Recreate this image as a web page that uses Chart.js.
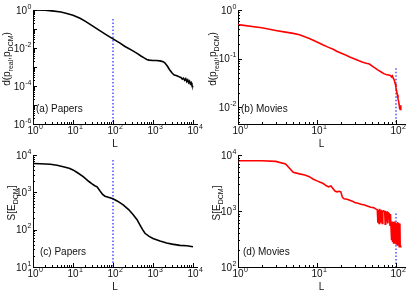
<!DOCTYPE html>
<html lang="en">
<head>
<meta charset="UTF-8" />
<title>DCM distance and entropy vs L</title>
<script src="https://cdn.jsdelivr.net/npm/chart.js"></script>
<style>
  body { margin: 0; background: #fff; }
  .wrap { position: relative; width: 410px; height: 296px; }
  canvas { position: absolute; }
</style>
</head>
<body>
<div class="wrap">
  <canvas id="chartA" width="205" height="148" style="left:0;top:0"></canvas>
  <canvas id="chartB" width="205" height="148" style="left:205px;top:0"></canvas>
  <canvas id="chartC" width="205" height="148" style="left:0;top:148px"></canvas>
  <canvas id="chartD" width="205" height="148" style="left:205px;top:148px"></canvas>
</div>
<script>
// (a) papers: distance d(p_real, p_DCM)
const papersDistL = [1, 2, 3, 5, 7, 10, 15, 20, 30, 50, 70, 100, 150, 200, 300, 400, 500, 600, 700, 800,
  1000, 1200, 1500, 1800, 2000, 2300, 2600, 3000, 3400, 3800, 4200, 4600, 5000, 5400, 5800, 6200,
  6600, 7000, 7400, 7800, 8200, 8600, 9000, 9400, 10000];
const papersDist = [1.0, 0.97, 0.9, 0.78, 0.66, 0.53, 0.37, 0.26, 0.15, 0.075, 0.048, 0.03, 0.018, 0.012,
  0.0075, 0.0052, 0.0038, 0.003, 0.0025, 0.0023, 0.0022, 0.0022, 0.0021, 0.0019, 0.0016, 0.0011,
  0.00072, 0.00048, 0.00038, 0.00036, 0.00033, 0.0003, 0.00028, 0.00023, 0.00026, 0.0002, 0.00024,
  0.00017, 0.00021, 0.00015, 0.00018, 0.00013, 0.00015, 0.00011, 0.000085];

// (b) movies: distance
const moviesDistL = [1, 2, 3, 4, 5, 6, 7, 8, 10, 12, 14, 16, 18, 20, 23, 26, 30, 34, 38, 42, 46, 50, 55,
  60, 65, 70, 75, 80, 85, 88, 90, 92, 95, 98, 100, 102, 104, 106, 108, 110, 111, 113, 115];
const moviesDist = [0.5, 0.43, 0.38, 0.35, 0.33, 0.31, 0.28, 0.26, 0.22, 0.19, 0.17, 0.155, 0.14, 0.13,
  0.118, 0.108, 0.098, 0.09, 0.084, 0.08, 0.077, 0.07, 0.063, 0.057, 0.053, 0.049, 0.047, 0.046,
  0.045, 0.042, 0.044, 0.04, 0.036, 0.03, 0.025, 0.021, 0.018, 0.015, 0.013, 0.011, 0.0095, 0.009, 0.011];

// (c) papers: entropy S[E_DCM]
const papersEntL = [1, 1.5, 2.7, 4, 5.7, 8, 10, 13, 18, 25, 30, 35, 40, 47, 55, 63, 80, 100, 130, 180, 250,
  320, 400, 470, 550, 630, 800, 1000, 1500, 2200, 3000, 4700, 7000, 10000];
const papersEnt = [5900, 5850, 5650, 5300, 4870, 4400, 3980, 3350, 2630, 1950, 1680, 1500, 1400, 1100,
  880, 790, 730, 670, 580, 460, 340, 250, 185, 135, 100, 80, 66, 58, 50, 44, 41, 38, 37, 35];

// (d) movies: entropy
const moviesEntL = [1, 2, 3, 4, 5, 6, 7, 8, 9, 10, 11, 12, 13, 14, 15, 16, 17, 18, 19, 20, 21, 22, 24, 26,
  28, 30, 33, 36, 40, 44, 48, 52, 56, 58, 59, 60, 61, 62, 63, 64, 65, 66, 67, 68, 70, 72, 73, 74, 76,
  78, 79, 82, 84, 85, 88, 89, 90, 91, 93, 94, 96, 97, 98, 100, 101, 103, 105, 106, 108, 110, 112, 113, 115];
const moviesEnt = [7900, 7900, 7700, 6900, 4900, 4600, 4400, 4100, 3700, 3450, 3250, 3100, 2850, 2700,
  2800, 2500, 2250, 2200, 2250, 2200, 1750, 1650, 1620, 1560, 1500, 1420, 1380, 1320, 1280, 1220,
  1170, 1150, 1080, 1050, 620, 1040, 600, 1030, 1000, 620, 1010, 980, 600, 990, 1000, 960, 580, 970,
  950, 620, 940, 900, 560, 880, 300, 650, 280, 640, 270, 620, 630, 260, 600, 620, 250, 600, 240, 610,
  600, 230, 600, 230, 240];

// dotted marker at L = 100
const markerL = 100;
const markerTop = { a: 0.34, b: 0.063, c: 7400, d: 900 };

// tick label exponents
const papersXTicks = [0, 1, 2, 3, 4];
const moviesXTicks = [0, 1, 2];
const papersDistYTicks = [0, -2, -4, -6];
const moviesDistYTicks = [0, -1, -2];
const papersEntYTicks = [1, 2, 3, 4];
const moviesEntYTicks = [2, 3, 4];

const FONT = "'Liberation Sans', Arial, sans-serif";

function logTicks(min, max) {
  const out = [];
  for (let e = Math.floor(Math.log10(min)); e <= Math.ceil(Math.log10(max)); e++) {
    for (let m = 1; m <= 9; m++) {
      const v = m * Math.pow(10, e);
      if (v >= min * 0.999 && v <= max * 1.001) out.push({ v, major: m === 1 });
    }
  }
  return out;
}

function drawPow(ctx, exp, x, y, align) {
  ctx.font = '10px ' + FONT;
  const bw = ctx.measureText('10').width;
  ctx.font = '7px ' + FONT;
  const sw = ctx.measureText(String(exp)).width;
  let x0;
  if (align === 'right') x0 = x - bw - sw;
  else x0 = x - bw / 2;
  ctx.font = '10px ' + FONT;
  ctx.fillText('10', x0, y);
  ctx.font = '7px ' + FONT;
  ctx.fillText(String(exp), x0 + bw + 0.5, y - 5);
}

function drawSubText(ctx, parts, x, y) {
  let w = 0;
  parts.forEach(p => {
    ctx.font = (p.sub ? '7px ' : '10px ') + FONT;
    w += ctx.measureText(p.t).width;
  });
  ctx.save();
  ctx.translate(x, y);
  ctx.rotate(-Math.PI / 2);
  let cx = -w / 2;
  parts.forEach(p => {
    ctx.font = (p.sub ? '7px ' : '10px ') + FONT;
    ctx.fillText(p.t, cx, p.sub ? 2.5 : 0);
    cx += ctx.measureText(p.t).width;
  });
  ctx.restore();
}

const decoPlugin = {
  id: 'deco',
  afterDraw(chart) {
    const o = chart.options.plugins.deco;
    const ctx = chart.ctx, a = chart.chartArea;
    const xs = chart.scales.x, ys = chart.scales.y;
    ctx.save();
    ctx.strokeStyle = '#000';
    ctx.lineWidth = 1;
    ctx.beginPath();
    logTicks(xs.min, xs.max).forEach(t => {
      const px = Math.round(xs.getPixelForValue(t.v)) + 0.5;
      ctx.moveTo(px, a.bottom);
      ctx.lineTo(px, a.bottom - (t.major ? 4 : 2));
    });
    logTicks(ys.min, ys.max).forEach(t => {
      const py = Math.round(ys.getPixelForValue(t.v)) + 0.5;
      ctx.moveTo(a.left, py);
      ctx.lineTo(a.left + (t.major ? 4 : 2), py);
    });
    ctx.stroke();

    ctx.fillStyle = '#111';
    ctx.textBaseline = 'alphabetic';
    ctx.textAlign = 'left';
    o.xTicks.forEach(e => {
      drawPow(ctx, e, xs.getPixelForValue(Math.pow(10, e)), a.bottom + 10, 'center');
    });
    o.yTicks.forEach(e => {
      drawPow(ctx, e, a.left - 2, ys.getPixelForValue(Math.pow(10, e)) + 3.5, 'right');
    });

    ctx.font = '10px ' + FONT;
    ctx.textAlign = 'center';
    ctx.fillText('L', (a.left + a.right) / 2, a.bottom + 23);
    ctx.textAlign = 'left';
    drawSubText(ctx, o.yTitle, o.yTitleX, (a.top + a.bottom) / 2 - 8);

    ctx.font = '10px ' + FONT;
    ctx.fillText(o.label, a.left + o.labelDx, a.bottom - 12);
    ctx.restore();
  }
};

function makePanel(id, cfg) {
  const canvas = document.getElementById(id);
  return new Chart(canvas, {
    type: 'line',
    data: {
      datasets: [
        {
          data: cfg.xs.map((x, i) => ({ x, y: cfg.ys[i] })),
          borderColor: cfg.color,
          borderWidth: 1.6,
          pointRadius: 0,
          tension: 0
        },
        {
          data: [{ x: markerL, y: cfg.markerTop }, { x: markerL, y: cfg.yMin }],
          borderColor: 'rgb(80,80,255)',
          borderWidth: 1.5,
          borderDash: [1.5, 2],
          pointRadius: 0
        }
      ]
    },
    options: {
      responsive: false,
      animation: false,
      layout: { padding: { top: cfg.top, right: canvas.width - cfg.right, left: 0, bottom: 0 } },
      plugins: {
        legend: { display: false },
        tooltip: { enabled: false },
        deco: {
          xTicks: cfg.xTicks, yTicks: cfg.yTicks, yTitle: cfg.yTitle,
          yTitleX: cfg.yTitleX, label: cfg.label, labelDx: cfg.labelDx
        }
      },
      scales: {
        x: {
          type: 'logarithmic', min: 1, max: cfg.xMax,
          grid: { display: false },
          border: { display: true, color: '#000', width: 1 },
          ticks: { display: false },
          afterFit: s => { s.height = canvas.height - cfg.bottom; }
        },
        y: {
          type: 'logarithmic', min: cfg.yMin, max: cfg.yMax,
          grid: { display: false },
          border: { display: true, color: '#000', width: 1 },
          ticks: { display: false },
          afterFit: s => { s.width = 33; }
        }
      }
    },
    plugins: [decoPlugin]
  });
}

const distTitle = [{ t: 'd(p' }, { t: 'real', sub: true }, { t: ',p' }, { t: 'DCM', sub: true }, { t: ')' }];
const entTitle = [{ t: 'S[E' }, { t: 'DCM', sub: true }, { t: ']' }];

makePanel('chartA', {
  xs: papersDistL, ys: papersDist, color: '#000', markerTop: markerTop.a,
  xMax: 12600, yMin: 1e-6, yMax: 1, top: 10, bottom: 124, right: 197,
  xTicks: papersXTicks, yTicks: papersDistYTicks, yTitle: distTitle, yTitleX: 10,
  label: '(a) Papers', labelDx: 3
});
makePanel('chartB', {
  xs: moviesDistL, ys: moviesDist, color: '#ff0000', markerTop: markerTop.b,
  xMax: 130, yMin: 0.0045, yMax: 1, top: 10, bottom: 124, right: 200,
  xTicks: moviesXTicks, yTicks: moviesDistYTicks, yTitle: distTitle, yTitleX: 11,
  label: '(b) Movies', labelDx: 3
});
makePanel('chartC', {
  xs: papersEntL, ys: papersEnt, color: '#000', markerTop: markerTop.c,
  xMax: 12600, yMin: 10, yMax: 1e4, top: 7, bottom: 119, right: 197,
  xTicks: papersXTicks, yTicks: papersEntYTicks, yTitle: entTitle, yTitleX: 15,
  label: '(c) Papers', labelDx: 7
});
makePanel('chartD', {
  xs: moviesEntL, ys: moviesEnt, color: '#ff0000', markerTop: markerTop.d,
  xMax: 130, yMin: 100, yMax: 1e4, top: 7, bottom: 119, right: 200,
  xTicks: moviesXTicks, yTicks: moviesEntYTicks, yTitle: entTitle, yTitleX: 15,
  label: '(d) Movies', labelDx: 5
});
</script>
</body>
</html>
